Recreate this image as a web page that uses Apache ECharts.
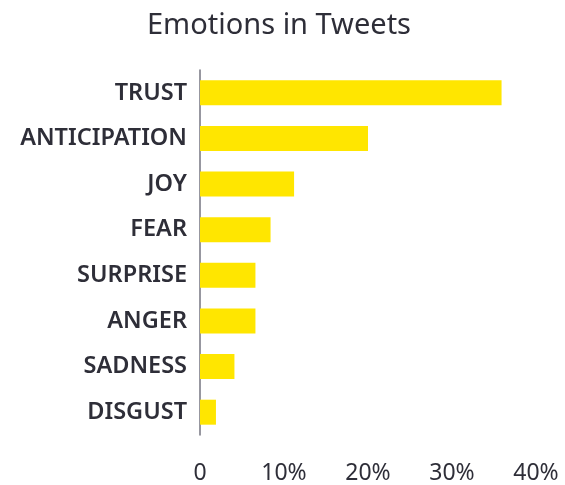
<!DOCTYPE html>
<html>
<head>
<meta charset="utf-8">
<script src="https://cdn.jsdelivr.net/npm/echarts@6/dist/echarts.min.js"></script>
<style>
html,body{margin:0;padding:0;background:#fff;}
#c{width:565px;height:485px;}
</style>
</head>
<body>
<div id="c"></div>
<script>
const categories = ["TRUST","ANTICIPATION","JOY","FEAR","SURPRISE","ANGER","SADNESS","DISGUST"];
const values = [35.9, 20.0, 11.2, 8.4, 6.6, 6.6, 4.1, 1.9];
const tickValues = [0, 10, 20, 30, 40];

const chart = echarts.init(document.getElementById('c'), null, {renderer:'canvas'});
chart.setOption({
  backgroundColor: '#ffffff',
  animation: false,
  title: {
    text: 'Emotions in Tweets',
    left: 142,
    top: 6,
    textStyle: {fontFamily: 'Noto Sans', fontSize: 29, fontWeight: 'normal', color: '#2e2e38'}
  },
  grid: {left: 200, right: 29, top: 70, bottom: 41.5, containLabel: false},
  xAxis: {
    type: 'value',
    min: tickValues[0],
    max: tickValues[tickValues.length-1],
    interval: 10,
    axisLine: {show: false},
    axisTick: {show: false},
    splitLine: {show: false},
    axisLabel: {
      margin: 27,
      fontFamily: 'Noto Sans',
      fontSize: 23,
      color: '#2e2e38',
      formatter: v => v === 0 ? '0' : v + '%'
    }
  },
  yAxis: {
    type: 'category',
    data: categories,
    inverse: true,
    axisLine: {show: true, lineStyle: {color: '#747480', width: 1.5}},
    axisTick: {show: false},
    axisLabel: {
      margin: 13,
      fontFamily: 'Noto Sans',
      fontSize: 23.5,
      fontWeight: 600,
      color: '#2e2e38',
      padding: [3, 0, 0, 0]
    }
  },
  series: [{
    type: 'bar',
    data: values,
    barWidth: 25,
    itemStyle: {color: '#ffe600'},
    silent: true
  }]
});
</script>
</body>
</html>
